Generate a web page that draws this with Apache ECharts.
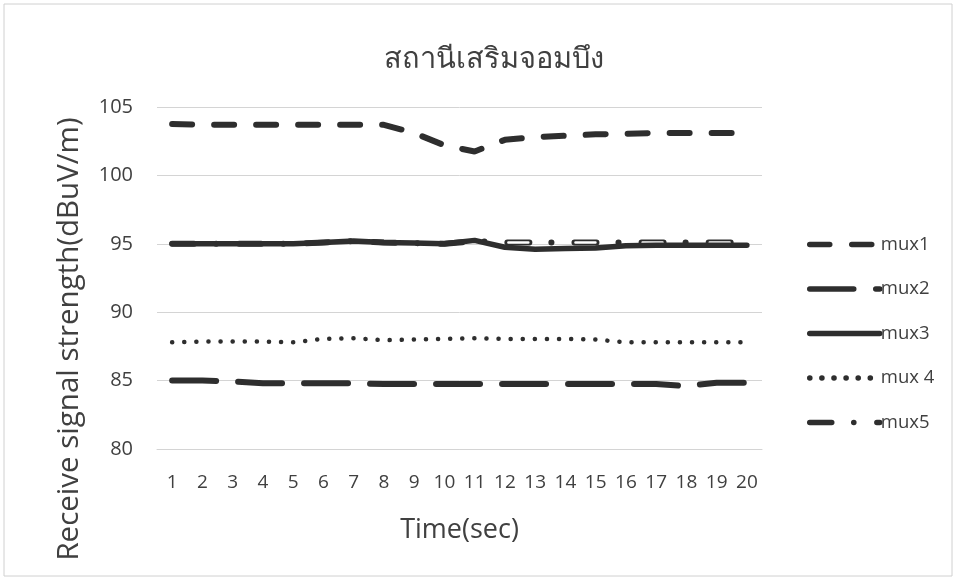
<!DOCTYPE html>
<html><head><meta charset="utf-8">
<script src="https://cdn.jsdelivr.net/npm/echarts@6/dist/echarts.min.js"></script>
<style>html,body{margin:0;padding:0;background:#fff}#c{width:957px;height:582px}</style>
</head><body><div id="c"></div>
<script>
const categories = ['1','2','3','4','5','6','7','8','9','10','11','12','13','14','15','16','17','18','19','20'];
const mux1 = [103.75,103.7,103.7,103.7,103.7,103.7,103.7,103.7,103.1,102.2,101.75,102.6,102.8,102.9,103.0,103.05,103.1,103.1,103.1,103.1];
const mux2 = [85.0,85.0,84.95,84.8,84.8,84.8,84.8,84.75,84.75,84.75,84.75,84.75,84.75,84.75,84.75,84.75,84.75,84.6,84.85,84.85];
const mux3 = [95.0,95.0,95.0,95.0,95.0,95.1,95.2,95.1,95.05,95.0,95.25,94.75,94.6,94.65,94.7,94.85,94.9,94.9,94.9,94.9];
const mux4 = [87.8,87.85,87.85,87.85,87.8,88.05,88.1,87.95,88.0,88.05,88.1,88.05,88.05,88.05,88.0,87.8,87.8,87.8,87.8,87.8];
const mux5 = [95.0,95.0,95.0,95.0,95.0,95.1,95.2,95.1,95.05,95.0,95.2,95.1,95.1,95.1,95.1,95.1,95.1,95.1,95.1,95.1];
const seriesNames = ['mux1','mux2','mux3','mux 4','mux5'];
const yTicks = {min: 80, max: 105, interval: 5};

const dark = '#2e2e2e';
const txt = '#404040';
const font = '"Open Sans","Noto Sans",sans-serif';
const chart = echarts.init(document.getElementById('c'), null, {renderer: 'canvas'});
chart.setOption({
  backgroundColor: '#fff',
  animation: false,
  color: [dark, dark, dark, dark, dark, dark],
  title: {
    text: 'สถานีเสริมจอมบึง', left: 379, top: 40,
    textStyle: {fontSize: 29, fontWeight: 'normal', color: txt, fontFamily: font}
  },
  grid: {left: 157, right: 195, top: 107, bottom: 133},
  legend: {
    orient: 'vertical', left: 802, top: 230, itemWidth: 70, itemHeight: 20, itemGap: 25.5,
    data: seriesNames,
    itemStyle: {opacity: 0},
    lineStyle: {width: 5.5, cap: 'round'},
    textStyle: {fontSize: 18.5, color: txt, fontFamily: font, padding: [0,0,0,-4]}
  },
  xAxis: {
    type: 'category', data: categories, boundaryGap: true,
    axisLine: {show: true, lineStyle: {color: '#d4d4d4'}},
    axisTick: {show: false},
    axisLabel: {fontSize: 19, color: txt, fontFamily: font, margin: 24},
    name: 'Time(sec)', nameLocation: 'middle', nameGap: 68,
    nameTextStyle: {fontSize: 27, color: txt, fontFamily: font}
  },
  yAxis: {
    type: 'value', min: yTicks.min, max: yTicks.max, interval: yTicks.interval,
    axisLine: {show: false}, axisTick: {show: false},
    axisLabel: {fontSize: 20, color: txt, fontFamily: font, margin: 24},
    splitLine: {lineStyle: {color: '#d4d4d4', width: 1}}
  },
  graphic: [
    {type: 'text', x: 70, y: 339, rotation: Math.PI/2,
     style: {text: 'Receive signal strength(dBuV/m)', fontSize: 29.5, fill: txt, fontFamily: font, align: 'center', verticalAlign: 'middle'}},
    {type: 'rect', shape: {x: 4, y: 4, width: 948, height: 572}, style: {fill: 'none', stroke: '#d0d0d0', lineWidth: 1}, silent: true}
  ],
  series: [
    {name: 'mux5', type: 'line', data: mux5, symbol: 'none', z: 2,
     lineStyle: {color: dark, width: 6, type: [22, 22, 0.1, 23], cap: 'round'}},
    {name: 'mux5w', type: 'line', data: mux5, symbol: 'none', z: 3, silent: true,
     lineStyle: {color: '#fff', width: 2.5, type: [20, 47.1], dashOffset: -1, cap: 'round'}},
    {name: 'mux3', type: 'line', data: mux3, symbol: 'none', z: 4,
     lineStyle: {color: dark, width: 5.5, type: 'solid', cap: 'round'}},
    {name: 'mux1', type: 'line', data: mux1, symbol: 'none', z: 4,
     lineStyle: {color: dark, width: 6, type: [20, 22], cap: 'round'}},
    {name: 'mux2', type: 'line', data: mux2, symbol: 'none', z: 4,
     lineStyle: {color: dark, width: 6, type: [44, 22], cap: 'round'}},
    {name: 'mux 4', type: 'line', data: mux4, symbol: 'none', z: 4,
     lineStyle: {color: dark, width: 4.5, type: [0.1, 12], cap: 'round'}}
  ]
});
</script></body></html>
